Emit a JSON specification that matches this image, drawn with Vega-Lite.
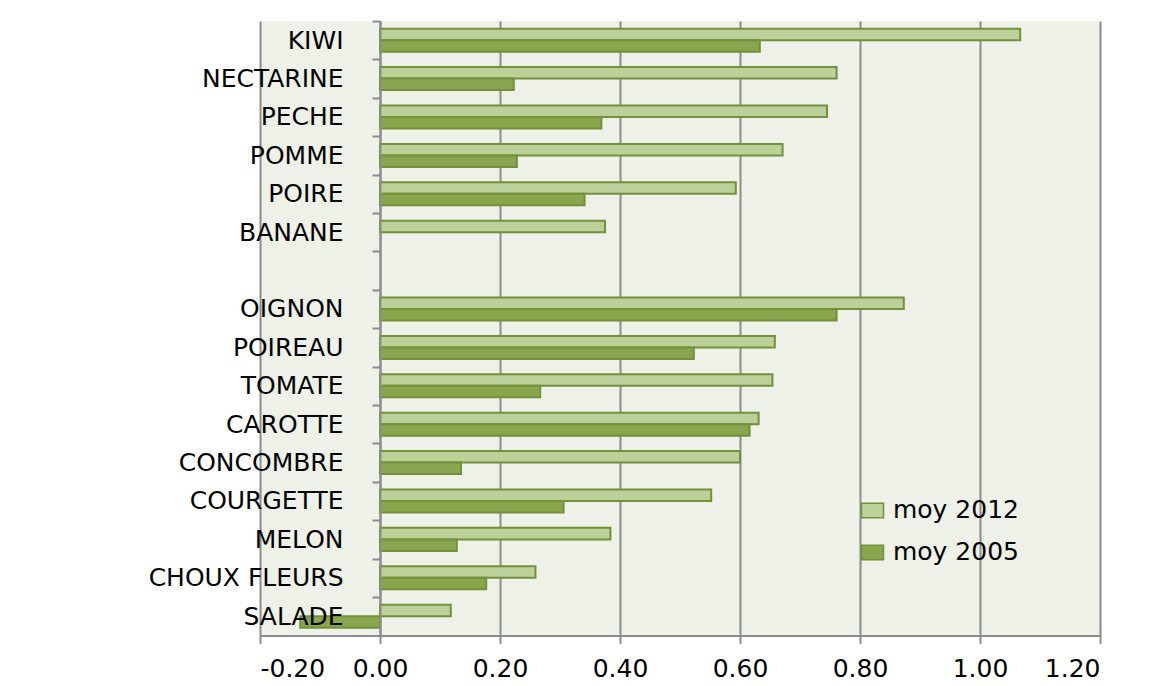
{
  "$schema": "https://vega.github.io/schema/vega-lite/v6.json",
  "width": 840,
  "height": 614.4,
  "autosize": {"type": "none"},
  "padding": {"left": 260, "top": 21, "right": 51, "bottom": 51},
  "background": "#FFFFFF",
  "config": {
    "view": {"fill": "#EEF1E7", "stroke": null},
    "font": "DejaVu Sans"
  },
  "data": {
    "values": [
      {"produit": "KIWI", "serie": "moy 2012", "valeur": 1.067},
      {"produit": "KIWI", "serie": "moy 2005", "valeur": 0.633},
      {"produit": "NECTARINE", "serie": "moy 2012", "valeur": 0.761},
      {"produit": "NECTARINE", "serie": "moy 2005", "valeur": 0.223},
      {"produit": "PECHE", "serie": "moy 2012", "valeur": 0.745},
      {"produit": "PECHE", "serie": "moy 2005", "valeur": 0.369},
      {"produit": "POMME", "serie": "moy 2012", "valeur": 0.671},
      {"produit": "POMME", "serie": "moy 2005", "valeur": 0.228},
      {"produit": "POIRE", "serie": "moy 2012", "valeur": 0.593},
      {"produit": "POIRE", "serie": "moy 2005", "valeur": 0.341},
      {"produit": "BANANE", "serie": "moy 2012", "valeur": 0.375},
      {"produit": "OIGNON", "serie": "moy 2012", "valeur": 0.873},
      {"produit": "OIGNON", "serie": "moy 2005", "valeur": 0.761},
      {"produit": "POIREAU", "serie": "moy 2012", "valeur": 0.658},
      {"produit": "POIREAU", "serie": "moy 2005", "valeur": 0.523},
      {"produit": "TOMATE", "serie": "moy 2012", "valeur": 0.654},
      {"produit": "TOMATE", "serie": "moy 2005", "valeur": 0.267},
      {"produit": "CAROTTE", "serie": "moy 2012", "valeur": 0.631},
      {"produit": "CAROTTE", "serie": "moy 2005", "valeur": 0.616},
      {"produit": "CONCOMBRE", "serie": "moy 2012", "valeur": 0.600},
      {"produit": "CONCOMBRE", "serie": "moy 2005", "valeur": 0.135},
      {"produit": "COURGETTE", "serie": "moy 2012", "valeur": 0.552},
      {"produit": "COURGETTE", "serie": "moy 2005", "valeur": 0.306},
      {"produit": "MELON", "serie": "moy 2012", "valeur": 0.384},
      {"produit": "MELON", "serie": "moy 2005", "valeur": 0.128},
      {"produit": "CHOUX FLEURS", "serie": "moy 2012", "valeur": 0.259},
      {"produit": "CHOUX FLEURS", "serie": "moy 2005", "valeur": 0.177},
      {"produit": "SALADE", "serie": "moy 2012", "valeur": 0.118},
      {"produit": "SALADE", "serie": "moy 2005", "valeur": -0.133}
    ]
  },
  "mark": {"type": "bar", "stroke": "#72913A", "strokeWidth": 2},
  "encoding": {
    "y": {
      "field": "produit",
      "type": "nominal",
      "title": null,
      "scale": {
        "domain": ["KIWI", "NECTARINE", "PECHE", "POMME", "POIRE", "BANANE", " ", "OIGNON", "POIREAU", "TOMATE", "CAROTTE", "CONCOMBRE", "COURGETTE", "MELON", "CHOUX FLEURS", "SALADE"],
        "paddingInner": 0.4,
        "paddingOuter": 0.2
      },
      "axis": {
        "orient": "left",
        "offset": -120,
        "zindex": 1,
        "bandPosition": 0,
        "tickOffset": -7.68,
        "labelOffset": 7.68,
        "domainColor": "#8C8C8C",
        "domainWidth": 2,
        "tickColor": "#8C8C8C",
        "tickWidth": 2,
        "tickSize": 8,
        "labelPadding": 29,
        "labelLimit": 0,
        "labelFontSize": 25,
        "labelColor": "#000000",
        "labelFont": "DejaVu Sans"
      }
    },
    "yOffset": {
      "field": "serie",
      "type": "nominal",
      "scale": {"domain": ["moy 2012", "moy 2005"]}
    },
    "x": {
      "field": "valeur",
      "type": "quantitative",
      "title": null,
      "scale": {"domain": [-0.2, 1.2], "nice": false, "zero": false},
      "axis": {
        "values": [-0.2, 0, 0.2, 0.4, 0.6, 0.8, 1.0, 1.2],
        "format": ".2f",
        "labelExpr": "replace(datum.label, '\u2212', '-')",
        "zindex": 0,
        "grid": true,
        "gridColor": "#8C8C8C",
        "gridWidth": 2,
        "gridOpacity": 1,
        "domainColor": "#8C8C8C",
        "domainWidth": 2,
        "tickColor": "#8C8C8C",
        "tickWidth": 2,
        "tickSize": 8,
        "labelPadding": 13,
        "labelFontSize": 25,
        "labelColor": "#000000",
        "labelFont": "DejaVu Sans"
      }
    },
    "fill": {
      "field": "serie",
      "type": "nominal",
      "scale": {"domain": ["moy 2012", "moy 2005"], "range": ["#BCD199", "#89A54E"]},
      "legend": {
        "title": null,
        "orient": "none",
        "legendX": 600,
        "legendY": 477,
        "padding": 0,
        "rowPadding": 16,
        "symbolType": "M-1,-0.65H1V0.65H-1Z",
        "symbolSize": 484,
        "symbolStrokeColor": "#72913A",
        "symbolStrokeWidth": 1.5,
        "labelOffset": 8,
        "labelFontSize": 25,
        "labelColor": "#000000",
        "labelFont": "DejaVu Sans"
      }
    }
  }
}
